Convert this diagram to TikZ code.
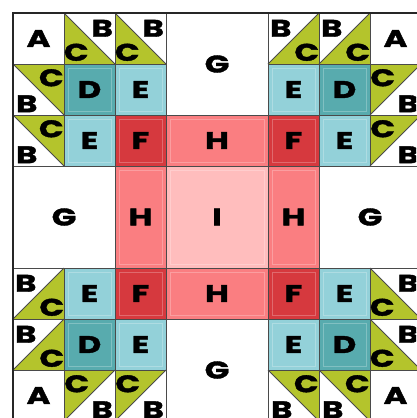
\documentclass[tikz,border=0pt]{standalone}
\usepackage{fontspec}
\newfontfamily\qf{Poppins}[FakeStretch=1.35,FakeBold=1.6]
\definecolor{grn}{HTML}{B4C42C}
\definecolor{dteal}{HTML}{58ABAE}
\definecolor{lteal}{HTML}{93D1D9}
\definecolor{dred}{HTML}{D6393E}
\definecolor{salm}{HTML}{FA7E81}
\definecolor{pnk}{HTML}{FFBDBD}
\definecolor{seamc}{HTML}{4A4A4A}
\pgfdeclarelayer{bg}
\pgfsetlayers{bg,main}
\tikzset{
  lbl/.style={font=\qf\bfseries\fontsize{24}{24}\selectfont, inner sep=0pt, text=black},
  seam/.style={draw=seamc, line width=0.8pt},
  inset/.style={draw=white, draw opacity=0.25, line width=1pt},
}
% block: col row w h colour text name
\newcommand\blk[7]{%
  \begin{pgfonlayer}{bg}
  \fill[#5] ({13+51*#1},{13+51*#2}) rectangle ({13+51*(#1+#3)},{13+51*(#2+#4)});
  \draw[inset] ({17+51*#1},{17+51*#2}) rectangle ({9+51*(#1+#3)},{9+51*(#2+#4)});
  \draw[seam] ({13+51*#1},{13+51*#2}) rectangle ({13+51*(#1+#3)},{13+51*(#2+#4)});
  \end{pgfonlayer}
  \node[lbl] (#7) at ({13+51*(#1+#3/2)},{13+51*(#2+#4/2)}) {#6};
}
\newcommand\hstUL[3]{%
  \begin{pgfonlayer}{bg}
  \fill[grn] ({13+51*#1},{13+51*#2}) -- ++(51,0) -- ++(-51,51) -- cycle;
  \draw[seam] ({13+51*#1},{13+51*#2}) rectangle ++(51,51);
  \draw[seam] ({13+51*#1},{13+51*(#2+1)}) -- ++(51,-51);
  \end{pgfonlayer}
  \node[lbl] (#3c) at ({13+51*(#1+0.25)},{13+51*(#2+0.27)}) {C};
  \node[lbl] (#3b) at ({13+51*(#1+0.75)},{13+51*(#2+0.78)}) {B};
}
\newcommand\hstUR[3]{%
  \begin{pgfonlayer}{bg}
  \fill[grn] ({13+51*#1},{13+51*#2}) -- ++(51,0) -- ++(0,51) -- cycle;
  \draw[seam] ({13+51*#1},{13+51*#2}) rectangle ++(51,51);
  \draw[seam] ({13+51*#1},{13+51*#2}) -- ++(51,51);
  \end{pgfonlayer}
  \node[lbl] (#3c) at ({13+51*(#1+0.75)},{13+51*(#2+0.27)}) {C};
  \node[lbl] (#3b) at ({13+51*(#1+0.27)},{13+51*(#2+0.78)}) {B};
}
\newcommand\hstLL[3]{%
  \begin{pgfonlayer}{bg}
  \fill[grn] ({13+51*#1},{13+51*#2}) -- ++(0,51) -- ++(51,0) -- cycle;
  \draw[seam] ({13+51*#1},{13+51*#2}) rectangle ++(51,51);
  \draw[seam] ({13+51*#1},{13+51*#2}) -- ++(51,51);
  \end{pgfonlayer}
  \node[lbl] (#3c) at ({13+51*(#1+0.24)},{13+51*(#2+0.77)}) {C};
  \node[lbl] (#3b) at ({13+51*(#1+0.75)},{13+51*(#2+0.3)}) {B};
}
\newcommand\hstLR[3]{%
  \begin{pgfonlayer}{bg}
  \fill[grn] ({13+51*(#1+1)},{13+51*#2}) -- ++(0,51) -- ++(-51,0) -- cycle;
  \draw[seam] ({13+51*#1},{13+51*#2}) rectangle ++(51,51);
  \draw[seam] ({13+51*#1},{13+51*(#2+1)}) -- ++(51,-51);
  \end{pgfonlayer}
  \node[lbl] (#3c) at ({13+51*(#1+0.76)},{13+51*(#2+0.77)}) {C};
  \node[lbl] (#3b) at ({13+51*(#1+0.25)},{13+51*(#2+0.3)}) {B};
}
\begin{document}
\begin{tikzpicture}[x=1pt,y=-1pt]
\useasboundingbox (0,0) rectangle (416,418);
\clip (0,0) rectangle (416,418);
\begin{pgfonlayer}{bg}
\fill[white] (0,0) rectangle (416,418);
\end{pgfonlayer}
% row 0
\blk{0}{0}{1}{1}{white}{A}{a1}
\hstLL{1}{0}{t1}
\hstLL{2}{0}{t2}
\blk{3}{0}{2}{2}{white}{G}{g1}
\hstLR{5}{0}{t3}
\hstLR{6}{0}{t4}
\blk{7}{0}{1}{1}{white}{A}{a2}
% row 1
\hstUR{0}{1}{t5}
\blk{1}{1}{1}{1}{dteal}{D}{d1}
\blk{2}{1}{1}{1}{lteal}{E}{e1}
\blk{5}{1}{1}{1}{lteal}{E}{e2}
\blk{6}{1}{1}{1}{dteal}{D}{d2}
\hstUL{7}{1}{t6}
% row 2
\hstUR{0}{2}{t7}
\blk{1}{2}{1}{1}{lteal}{E}{e3}
\blk{2}{2}{1}{1}{dred}{F}{f1}
\blk{3}{2}{2}{1}{salm}{H}{h1}
\blk{5}{2}{1}{1}{dred}{F}{f2}
\blk{6}{2}{1}{1}{lteal}{E}{e4}
\hstUL{7}{2}{t8}
% rows 3-4
\blk{0}{3}{2}{2}{white}{G}{g2}
\blk{2}{3}{1}{2}{salm}{H}{h2}
\blk{3}{3}{2}{2}{pnk}{I}{i1}
\blk{5}{3}{1}{2}{salm}{H}{h3}
\blk{6}{3}{2}{2}{white}{G}{g3}
% row 5
\hstLR{0}{5}{t9}
\blk{1}{5}{1}{1}{lteal}{E}{e5}
\blk{2}{5}{1}{1}{dred}{F}{f3}
\blk{3}{5}{2}{1}{salm}{H}{h4}
\blk{5}{5}{1}{1}{dred}{F}{f4}
\blk{6}{5}{1}{1}{lteal}{E}{e6}
\hstLL{7}{5}{t10}
% row 6
\hstLR{0}{6}{t11}
\blk{1}{6}{1}{1}{dteal}{D}{d3}
\blk{2}{6}{1}{1}{lteal}{E}{e7}
\blk{3}{6}{2}{2}{white}{G}{g4}
\blk{5}{6}{1}{1}{lteal}{E}{e8}
\blk{6}{6}{1}{1}{dteal}{D}{d4}
\hstLL{7}{6}{t12}
% row 7
\blk{0}{7}{1}{1}{white}{A}{a3}
\hstUL{1}{7}{t13}
\hstUL{2}{7}{t14}
\hstUR{5}{7}{t15}
\hstUR{6}{7}{t16}
\blk{7}{7}{1}{1}{white}{A}{a4}
% outer frame
\begin{pgfonlayer}{bg}
\draw[draw=black!85, line width=2pt] (13,13) rectangle (421,421);
\end{pgfonlayer}
\end{tikzpicture}
\end{document}
